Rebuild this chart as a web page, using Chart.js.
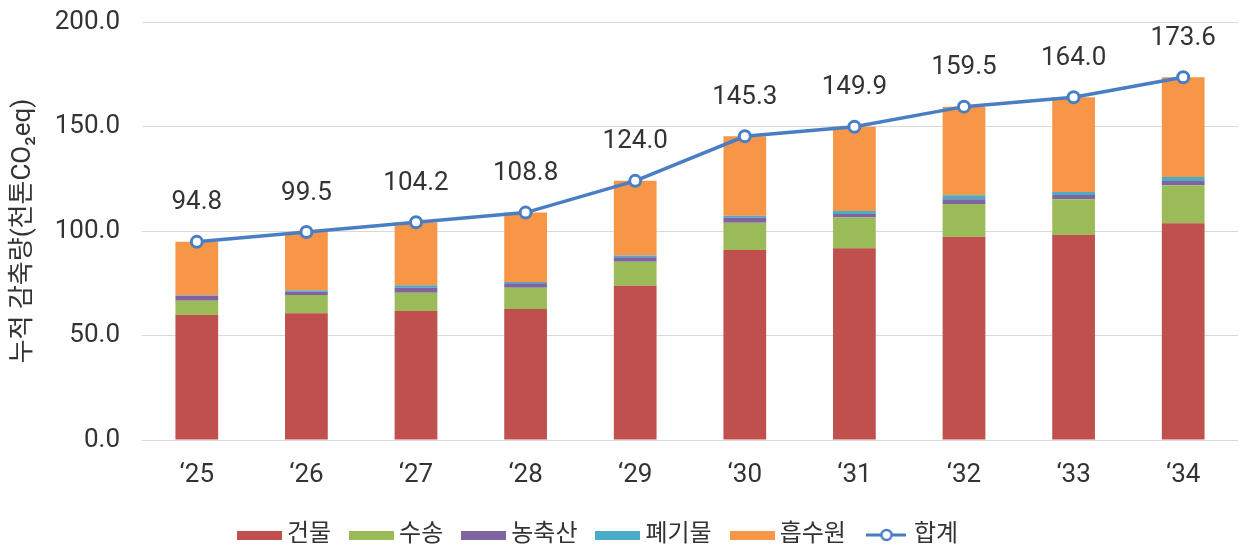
<!DOCTYPE html>
<html>
<head>
<meta charset="utf-8">
<script src="https://cdn.jsdelivr.net/npm/chart.js@4.4.1/dist/chart.umd.min.js"></script>
<style>
html,body{margin:0;padding:0;background:#fff;}
#wrap{width:1239px;height:546px;position:relative;}
</style>
</head>
<body>
<div id="wrap"><canvas id="c" width="1239" height="546"></canvas></div>
<script>
const categories = ["‘25","‘26","‘27","‘28","‘29","‘30","‘31","‘32","‘33","‘34"];
const building   = [59.8, 60.6, 61.7, 62.7, 73.8, 90.9, 91.7, 97.3, 98.1, 103.7];
const transport  = [6.8, 8.8, 8.8, 10.2, 11.5, 13.1, 14.8, 15.6, 17.1, 18.2];
const agri       = [2.4, 1.6, 2.5, 2.1, 2.1, 2.4, 1.6, 2.3, 2.0, 2.0];
const waste      = [0.3, 0.6, 1.0, 0.6, 0.9, 0.9, 1.5, 1.9, 1.5, 1.9];
const absorb     = [25.5, 27.9, 30.2, 33.2, 35.7, 38.0, 40.3, 42.4, 45.3, 47.8];
const total      = [94.8, 99.5, 104.2, 108.8, 124.0, 145.3, 149.9, 159.5, 164.0, 173.6];
const seriesNames = ["건물","수송","농축산","폐기물","흡수원","합계"];
const yTicks = [0, 50, 100, 150, 200];

const colors = ['#C0504D','#9BBB59','#8064A2','#4BACC6','#F79646'];
const lineColor = '#4A7EC4';
const FONT = "Roboto, 'Noto Sans CJK KR', sans-serif";
const TEXT = '#333333';

function rectIcon(color){
  const c = document.createElement('canvas');
  c.width = 45; c.height = 9;
  const x = c.getContext('2d');
  x.fillStyle = color; x.fillRect(0,0,45,9);
  return c;
}
function lineIcon(){
  const c = document.createElement('canvas');
  c.width = 40; c.height = 16;
  const x = c.getContext('2d');
  x.strokeStyle = lineColor; x.lineWidth = 3;
  x.beginPath(); x.moveTo(0,8); x.lineTo(40,8); x.stroke();
  x.beginPath(); x.arc(20,8,5,0,Math.PI*2);
  x.fillStyle = '#fff'; x.fill(); x.lineWidth = 2.5; x.stroke();
  return c;
}
const icons = [rectIcon(colors[0]),rectIcon(colors[1]),rectIcon(colors[2]),rectIcon(colors[3]),rectIcon(colors[4]),lineIcon()];

const barSeries = [building, transport, agri, waste, absorb];
const datasets = barSeries.map((d,i)=>({
  type:'bar', label: seriesNames[i], data: d, backgroundColor: colors[i],
  stack:'s', order: 2, categoryPercentage: 1.0, barPercentage: 0.39, borderWidth: 0
}));
datasets.push({
  type:'line', label: seriesNames[5], data: total, stack:'t', order: 0,
  borderColor: lineColor, borderWidth: 3.5, pointRadius: 5.5, pointBorderWidth: 3,
  pointBackgroundColor: '#fff', pointBorderColor: lineColor, tension: 0, fill: false
});

const labelPlugin = {
  id:'totLabels',
  afterLayout(chart){
    if (chart.legend) { chart.legend.left -= 18; chart.legend.right -= 18; }
  },
  afterDatasetsDraw(chart){
    const ctx = chart.ctx;
    const idx = chart.data.datasets.length-1;
    const meta = chart.getDatasetMeta(idx);
    ctx.save();
    ctx.font = "26px " + FONT;
    ctx.fillStyle = TEXT;
    ctx.textAlign = 'center';
    ctx.textBaseline = 'middle';
    meta.data.forEach((pt,i)=>{
      ctx.fillText(total[i].toFixed(1), pt.x, pt.y - 39);
    });
    ctx.restore();
  }
};

new Chart(document.getElementById('c'), {
  data: { labels: categories, datasets },
  options: {
    responsive:false, animation:false,
    layout:{ autoPadding:false, padding:{ top:22, right:1, left:0, bottom:-11 } },
    plugins:{
      tooltip:{enabled:false},
      legend:{
        position:'bottom',
        labels:{
          usePointStyle:true, pointStyleWidth:31, padding:25,
          color: TEXT, font:{ size:24, family: FONT },
          generateLabels(chart){
            return chart.data.datasets.map((ds,i)=>({
              text: ds.label, pointStyle: icons[i], fillStyle: 'transparent',
              strokeStyle:'transparent', lineWidth:0, hidden:false, datasetIndex:i, fontColor: TEXT
            }));
          }
        }
      }
    },
    scales:{
      x:{
        stacked:true,
        grid:{ display:false },
        border:{ display:false },
        ticks:{ color: TEXT, font:{ size:26, family: FONT }, padding:12 },
        afterFit(s){ s.height = 58; s.paddingLeft = 0; s.paddingRight = 0; }
      },
      y:{
        stacked:true, min:0, max:200,
        afterBuildTicks(s){ s.ticks = yTicks.map(v=>({value:v})); },
        grid:{ color:'#D9D9D9', drawTicks:false, lineWidth:1 },
        border:{ display:false },
        ticks:{ color: TEXT, font:{ size:26, family: FONT }, padding:22,
          callback:(v)=>Number(v).toFixed(1) },
        title:{ display:true, text:'누적 감축량(천톤CO₂eq)', color: TEXT,
          font:{ size:26, family: FONT }, padding:{ top:8, bottom:0 } },
        afterFit(s){ s.width = 142; s.paddingTop = 0; s.paddingBottom = 0; }
      }
    }
  },
  plugins:[labelPlugin]
});
</script>
</body>
</html>
